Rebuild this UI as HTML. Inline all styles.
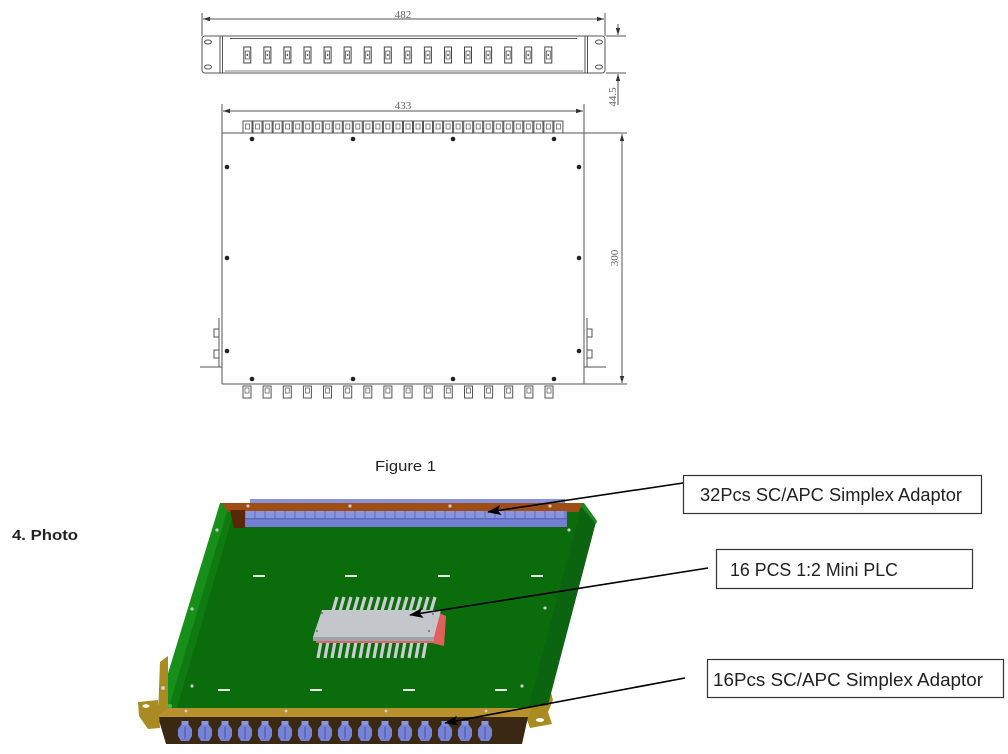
<!DOCTYPE html>
<html>
<head>
<meta charset="utf-8">
<style>
html,body{margin:0;padding:0;background:#fff;}
svg{display:block;}
</style>
</head>
<body>
<svg width="1008" height="754" viewBox="0 0 1008 754" xmlns="http://www.w3.org/2000/svg">
<defs>
  <marker id="da" markerWidth="8" markerHeight="6" refX="7" refY="3" orient="auto" markerUnits="userSpaceOnUse">
    <path d="M0,0.8 L7,3 L0,5.2 z" fill="#333"/>
  </marker>
  <marker id="ar" markerWidth="14" markerHeight="10" refX="13" refY="5" orient="auto" markerUnits="userSpaceOnUse">
    <path d="M0,0 L14,5 L0,10 L3,5 z" fill="#000"/>
  </marker>
  <g id="fc">
    <rect x="-3.5" y="0" width="7" height="16" fill="none" stroke="#444" stroke-width="1"/>
    <rect x="-2" y="4" width="4" height="8" fill="none" stroke="#555" stroke-width="0.8"/>
    <rect x="-0.7" y="7" width="1.4" height="2" fill="#555"/>
  </g>
  <g id="tc">
    <rect x="0" y="0" width="9" height="12" fill="none" stroke="#555" stroke-width="1"/>
    <rect x="2.5" y="3" width="4" height="5" fill="none" stroke="#666" stroke-width="0.8"/>
  </g>
  <g id="bc">
    <rect x="-4" y="0" width="8" height="12" fill="none" stroke="#555" stroke-width="1"/>
    <rect x="-2" y="2" width="4" height="5" fill="none" stroke="#666" stroke-width="0.8"/>
  </g>
  <g id="blue">
    <rect x="-3.5" y="0" width="7" height="5" fill="#8a95dc"/>
    <path d="M-4,4 h8 l3,4 v7 l-3,5 h-8 l-3,-5 v-7 z" fill="#7683d4"/>
    <path d="M-1,6 h2 v12 h-2 z" fill="#5e6bbd"/>
  </g>
</defs>

<rect width="1008" height="754" fill="#fff"/>

<!-- ========== FRONT VIEW ========== -->
<g stroke="#555" fill="none" stroke-width="1">
  <line x1="202" y1="13" x2="202" y2="36"/>
  <line x1="605" y1="13" x2="605" y2="36"/>
  <line x1="212" y1="19" x2="203" y2="19" marker-end="url(#da)"/>
  <line x1="212" y1="19" x2="595" y2="19"/>
  <line x1="595" y1="19" x2="604" y2="19" marker-end="url(#da)"/>
  <rect x="202" y="36" width="403" height="37" rx="3"/>
  <line x1="220" y1="36" x2="220" y2="73"/>
  <line x1="222.5" y1="36" x2="222.5" y2="73"/>
  <line x1="585" y1="36" x2="585" y2="73"/>
  <line x1="587.5" y1="36" x2="587.5" y2="73"/>
  <line x1="230" y1="38.5" x2="577" y2="38.5"/>
  <line x1="225" y1="71" x2="583" y2="71" stroke="#888"/>
  <ellipse cx="208" cy="42" rx="3.5" ry="2"/>
  <ellipse cx="208" cy="67" rx="3.5" ry="2"/>
  <ellipse cx="599" cy="42" rx="3.5" ry="2"/>
  <ellipse cx="599" cy="67" rx="3.5" ry="2"/>
  <!-- 44.5 dim -->
  <line x1="606" y1="36" x2="626" y2="36"/>
  <line x1="606" y1="73" x2="626" y2="73"/>
  <line x1="618" y1="24" x2="618" y2="35" marker-end="url(#da)"/>
  <line x1="618" y1="105" x2="618" y2="74" marker-end="url(#da)"/>
</g>
<text x="403" y="18" font-family="Liberation Serif, serif" font-size="11" fill="#666" text-anchor="middle">482</text>
<text transform="translate(616,97) rotate(-90)" font-family="Liberation Serif, serif" font-size="11" fill="#666" text-anchor="middle">44.5</text>
<g>
  <use href="#fc" x="247.3" y="47"/><use href="#fc" x="267.4" y="47"/><use href="#fc" x="287.4" y="47"/><use href="#fc" x="307.5" y="47"/>
  <use href="#fc" x="327.6" y="47"/><use href="#fc" x="347.6" y="47"/><use href="#fc" x="367.7" y="47"/><use href="#fc" x="387.8" y="47"/>
  <use href="#fc" x="407.8" y="47"/><use href="#fc" x="427.9" y="47"/><use href="#fc" x="448.0" y="47"/><use href="#fc" x="468.0" y="47"/>
  <use href="#fc" x="488.1" y="47"/><use href="#fc" x="508.2" y="47"/><use href="#fc" x="528.2" y="47"/><use href="#fc" x="548.3" y="47"/>
</g>

<!-- ========== PLAN VIEW ========== -->
<g stroke="#555" fill="none" stroke-width="1">
  <line x1="222" y1="104" x2="222" y2="384"/>
  <line x1="584" y1="104" x2="584" y2="384"/>
  <line x1="232" y1="111" x2="223" y2="111" marker-end="url(#da)"/>
  <line x1="232" y1="111" x2="574" y2="111"/>
  <line x1="574" y1="111" x2="583" y2="111" marker-end="url(#da)"/>
  <line x1="222" y1="133" x2="627" y2="133"/>
  <line x1="222" y1="384" x2="627" y2="384"/>
  <line x1="622" y1="250" x2="622" y2="134" marker-end="url(#da)"/>
  <line x1="622" y1="250" x2="622" y2="383" marker-end="url(#da)"/>
  <!-- side brackets -->
  <line x1="219" y1="318" x2="219" y2="367"/>
  <rect x="214" y="329" width="5" height="8"/>
  <rect x="214" y="350" width="5" height="8"/>
  <line x1="200" y1="367" x2="222" y2="367"/>
  <line x1="587" y1="318" x2="587" y2="367"/>
  <rect x="587" y="329" width="5" height="8"/>
  <rect x="587" y="350" width="5" height="8"/>
  <line x1="584" y1="367" x2="606" y2="367"/>
</g>
<text x="403" y="109" font-family="Liberation Serif, serif" font-size="11" fill="#666" text-anchor="middle">433</text>
<text transform="translate(618,258) rotate(-90)" font-family="Liberation Serif, serif" font-size="11" fill="#666" text-anchor="middle">300</text>
<g>
  <use href="#tc" x="243" y="121"/><use href="#tc" x="253" y="121"/><use href="#tc" x="263.1" y="121"/><use href="#tc" x="273.1" y="121"/>
  <use href="#tc" x="283.1" y="121"/><use href="#tc" x="293.2" y="121"/><use href="#tc" x="303.2" y="121"/><use href="#tc" x="313.2" y="121"/>
  <use href="#tc" x="323.2" y="121"/><use href="#tc" x="333.3" y="121"/><use href="#tc" x="343.3" y="121"/><use href="#tc" x="353.3" y="121"/>
  <use href="#tc" x="363.4" y="121"/><use href="#tc" x="373.4" y="121"/><use href="#tc" x="383.4" y="121"/><use href="#tc" x="393.5" y="121"/>
  <use href="#tc" x="403.5" y="121"/><use href="#tc" x="413.5" y="121"/><use href="#tc" x="423.5" y="121"/><use href="#tc" x="433.6" y="121"/>
  <use href="#tc" x="443.6" y="121"/><use href="#tc" x="453.6" y="121"/><use href="#tc" x="463.7" y="121"/><use href="#tc" x="473.7" y="121"/>
  <use href="#tc" x="483.7" y="121"/><use href="#tc" x="493.8" y="121"/><use href="#tc" x="503.8" y="121"/><use href="#tc" x="513.8" y="121"/>
  <use href="#tc" x="523.8" y="121"/><use href="#tc" x="533.9" y="121"/><use href="#tc" x="543.9" y="121"/><use href="#tc" x="553.9" y="121"/>
</g>
<g fill="#222">
  <circle cx="252" cy="139" r="2.3"/><circle cx="353" cy="139" r="2.3"/><circle cx="453" cy="139" r="2.3"/><circle cx="554" cy="139" r="2.3"/>
  <circle cx="227" cy="167" r="2.3"/><circle cx="579" cy="167" r="2.3"/>
  <circle cx="227" cy="258" r="2.3"/><circle cx="579" cy="258" r="2.3"/>
  <circle cx="227" cy="351" r="2.3"/><circle cx="579" cy="351" r="2.3"/>
  <circle cx="252" cy="379" r="2.3"/><circle cx="353" cy="379" r="2.3"/><circle cx="453" cy="379" r="2.3"/><circle cx="554" cy="379" r="2.3"/>
</g>
<g>
  <use href="#bc" x="247" y="386"/><use href="#bc" x="267.1" y="386"/><use href="#bc" x="287.3" y="386"/><use href="#bc" x="307.4" y="386"/>
  <use href="#bc" x="327.5" y="386"/><use href="#bc" x="347.7" y="386"/><use href="#bc" x="367.8" y="386"/><use href="#bc" x="387.9" y="386"/>
  <use href="#bc" x="408.1" y="386"/><use href="#bc" x="428.2" y="386"/><use href="#bc" x="448.3" y="386"/><use href="#bc" x="468.5" y="386"/>
  <use href="#bc" x="488.6" y="386"/><use href="#bc" x="508.7" y="386"/><use href="#bc" x="528.9" y="386"/><use href="#bc" x="549" y="386"/>
</g>

<!-- ========== TEXTS ========== -->
<text x="375" y="471" font-family="Liberation Sans, sans-serif" font-size="15" fill="#222" textLength="61" lengthAdjust="spacingAndGlyphs">Figure 1</text>
<text x="12" y="540" font-family="Liberation Sans, sans-serif" font-size="15" font-weight="bold" fill="#222" textLength="66" lengthAdjust="spacingAndGlyphs">4. Photo</text>

<!-- ========== PHOTO ========== -->
<!-- right bracket (behind) -->
<path d="M527,668 L541,656 L553,700 L548,712 L552,724 L530,728 L524,712 Z" fill="#a98b22"/>
<ellipse cx="540" cy="720" rx="4" ry="2" fill="#fff"/>
<circle cx="538" cy="683" r="3" fill="#c8c8c8"/>
<circle cx="532" cy="698" r="3" fill="#c8c8c8"/>
<!-- right wall -->
<path d="M578,503 L596,522 L548,705 L528,708 Z" fill="#0b6410"/>
<path d="M578,503 L584,503 L597,521 L596,524 Z" fill="#1a8a1e"/>
<!-- floor -->
<path d="M232,512 L580,512 L528,708 L172,708 Z" fill="#0b6c0b"/>
<!-- left wall -->
<path d="M220,503 L233,503 L174,710 L155,716 Z" fill="#17901a"/>
<path d="M228,508 L235,508 L177,708 L168,710 Z" fill="#0f7a12"/>
<!-- back bar -->
<path d="M222,503 L582,503 L579,512 L228,512 Z" fill="#9e4e14"/>
<path d="M230,510 L245,510 L245,528 L234,528 Z" fill="#5a2707"/>
<g fill="#8893da">
  <rect x="250" y="499" width="315" height="4"/>
</g>
<g fill="#c9c9c9">
  <circle cx="248" cy="506" r="1.6"/><circle cx="350" cy="506" r="1.6"/><circle cx="450" cy="506" r="1.6"/><circle cx="550" cy="506" r="1.6"/>
</g>
<rect x="245" y="511" width="322" height="16" fill="#7380d2"/>
<g fill="#8a95de">
  <rect x="246" y="511" width="8" height="7"/><rect x="256" y="511" width="8" height="7"/><rect x="266" y="511" width="8" height="7"/><rect x="276" y="511" width="8" height="7"/>
  <rect x="286" y="511" width="8" height="7"/><rect x="296" y="511" width="8" height="7"/><rect x="306" y="511" width="8" height="7"/><rect x="316" y="511" width="8" height="7"/>
  <rect x="326" y="511" width="8" height="7"/><rect x="336" y="511" width="8" height="7"/><rect x="346" y="511" width="8" height="7"/><rect x="356" y="511" width="8" height="7"/>
  <rect x="366" y="511" width="8" height="7"/><rect x="376" y="511" width="8" height="7"/><rect x="386" y="511" width="8" height="7"/><rect x="396" y="511" width="8" height="7"/>
  <rect x="406" y="511" width="8" height="7"/><rect x="416" y="511" width="8" height="7"/><rect x="426" y="511" width="8" height="7"/><rect x="436" y="511" width="8" height="7"/>
  <rect x="446" y="511" width="8" height="7"/><rect x="456" y="511" width="8" height="7"/><rect x="466" y="511" width="8" height="7"/><rect x="476" y="511" width="8" height="7"/>
  <rect x="486" y="511" width="8" height="7"/><rect x="496" y="511" width="8" height="7"/><rect x="506" y="511" width="8" height="7"/><rect x="516" y="511" width="8" height="7"/>
  <rect x="526" y="511" width="8" height="7"/><rect x="536" y="511" width="8" height="7"/><rect x="546" y="511" width="8" height="7"/><rect x="556" y="511" width="8" height="7"/>
</g>
<g fill="#5d69bd">
  <rect x="245" y="518" width="322" height="1.5"/>
</g>
<!-- plate screws -->
<g fill="#c9c9c9">
  <circle cx="217" cy="530" r="1.6"/><circle cx="569" cy="530" r="1.6"/>
  <circle cx="192" cy="609" r="1.6"/><circle cx="545" cy="608" r="1.6"/>
  <circle cx="192" cy="686" r="1.6"/><circle cx="522" cy="686" r="1.6"/>
</g>
<!-- dashes -->
<g fill="#e8e8e8">
  <rect x="253" y="575" width="12" height="2"/><rect x="345" y="575" width="12" height="2"/><rect x="438" y="575" width="12" height="2"/><rect x="531" y="575" width="12" height="2"/>
  <rect x="218" y="689" width="12" height="2"/><rect x="310" y="689" width="12" height="2"/><rect x="403" y="689" width="12" height="2"/><rect x="495" y="689" width="12" height="2"/>
</g>
<!-- PLC -->
<g stroke="#c9cdd2" stroke-width="3.2">
  <line x1="333" y1="611" x2="337" y2="597"/><line x1="340" y1="611" x2="344" y2="597"/><line x1="347" y1="611" x2="351" y2="597"/><line x1="354" y1="611" x2="358" y2="597"/>
  <line x1="361" y1="611" x2="365" y2="597"/><line x1="368" y1="611" x2="372" y2="597"/><line x1="375" y1="611" x2="379" y2="597"/><line x1="382" y1="611" x2="386" y2="597"/>
  <line x1="389" y1="611" x2="393" y2="597"/><line x1="396" y1="611" x2="400" y2="597"/><line x1="403" y1="611" x2="407" y2="597"/><line x1="410" y1="611" x2="414" y2="597"/>
  <line x1="417" y1="611" x2="421" y2="597"/><line x1="424" y1="611" x2="428" y2="597"/><line x1="431" y1="611" x2="435" y2="597"/>
  <line x1="318" y1="658" x2="322" y2="636"/><line x1="325" y1="658" x2="329" y2="636"/><line x1="332" y1="658" x2="336" y2="636"/><line x1="339" y1="658" x2="343" y2="636"/>
  <line x1="346" y1="658" x2="350" y2="636"/><line x1="353" y1="658" x2="357" y2="636"/><line x1="360" y1="658" x2="364" y2="636"/><line x1="367" y1="658" x2="371" y2="636"/>
  <line x1="374" y1="658" x2="378" y2="636"/><line x1="381" y1="658" x2="385" y2="636"/><line x1="388" y1="658" x2="392" y2="636"/><line x1="395" y1="658" x2="399" y2="636"/>
  <line x1="402" y1="658" x2="406" y2="636"/><line x1="409" y1="658" x2="413" y2="636"/><line x1="416" y1="658" x2="420" y2="636"/><line x1="423" y1="658" x2="427" y2="636"/>
</g>
<path d="M434,611 L446,616 L444,646 L432,643 Z" fill="#e06060"/>
<rect x="316" y="636" width="118" height="7" fill="#d86a6a"/>
<path d="M322,610 L441,610 L434,637 L313,637 Z" fill="#c3c7cc"/>
<path d="M313,637 L434,637 L434,641 L313,641 Z" fill="#9ea3a8"/>
<g fill="#555"><circle cx="322" cy="613" r="0.9"/><circle cx="317" cy="631" r="0.9"/><circle cx="433" cy="614" r="0.9"/><circle cx="429" cy="631" r="0.9"/></g>
<!-- front panel -->
<path d="M155,708 L532,708 L528,717 L158,717 Z" fill="#b8902c"/>
<path d="M158,717 L528,717 L522,744 L166,744 Z" fill="#3a2812"/>
<g fill="#cfcfcf">
  <circle cx="186" cy="711" r="1.4"/><circle cx="286" cy="711" r="1.4"/><circle cx="386" cy="711" r="1.4"/><circle cx="486" cy="711" r="1.4"/>
</g>
<g>
  <use href="#blue" x="185" y="721"/><use href="#blue" x="205" y="721"/><use href="#blue" x="225" y="721"/><use href="#blue" x="245" y="721"/>
  <use href="#blue" x="265" y="721"/><use href="#blue" x="285" y="721"/><use href="#blue" x="305" y="721"/><use href="#blue" x="325" y="721"/>
  <use href="#blue" x="345" y="721"/><use href="#blue" x="365" y="721"/><use href="#blue" x="385" y="721"/><use href="#blue" x="405" y="721"/>
  <use href="#blue" x="425" y="721"/><use href="#blue" x="445" y="721"/><use href="#blue" x="465" y="721"/><use href="#blue" x="485" y="721"/>
</g>
<!-- left bracket -->
<path d="M160,662 L168,656 L168,708 L158,716 Z" fill="#a98b22"/>
<path d="M138,702 L158,700 L160,728 L148,729 L139,716 Z" fill="#a98b22"/>
<ellipse cx="146" cy="706" rx="3.5" ry="1.8" fill="#fff"/>
<circle cx="163" cy="688" r="2" fill="#cfcfcf"/>
<circle cx="170" cy="706" r="2" fill="#4dbb4d"/>

<!-- arrows -->
<g stroke="#000" stroke-width="1.6" fill="none">
  <line x1="683" y1="483" x2="488" y2="512" marker-end="url(#ar)"/>
  <line x1="708" y1="568" x2="410" y2="615" marker-end="url(#ar)"/>
  <line x1="685" y1="678" x2="445" y2="723" marker-end="url(#ar)"/>
</g>

<!-- label boxes -->
<g fill="#fff" stroke="#333" stroke-width="1.2">
  <rect x="683.5" y="475.5" width="298" height="38"/>
  <rect x="716.5" y="549.5" width="256" height="39"/>
  <rect x="707.5" y="659.5" width="296" height="38"/>
</g>
<g font-family="Liberation Sans, sans-serif" font-size="18" fill="#222">
  <text x="700" y="501" textLength="262" lengthAdjust="spacingAndGlyphs">32Pcs SC/APC Simplex Adaptor</text>
  <text x="730" y="576" textLength="168" lengthAdjust="spacingAndGlyphs">16 PCS 1:2 Mini PLC</text>
  <text x="713" y="686" textLength="270" lengthAdjust="spacingAndGlyphs">16Pcs SC/APC Simplex Adaptor</text>
</g>
</svg>
</body>
</html>
